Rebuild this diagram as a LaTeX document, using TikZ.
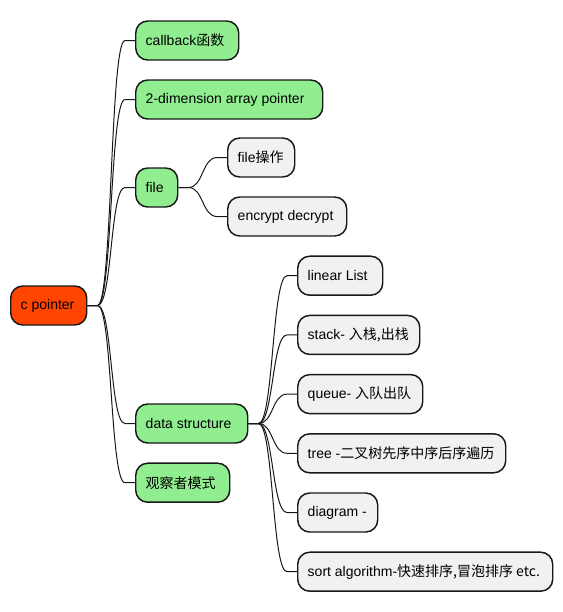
\documentclass[tikz,border=0pt]{standalone}
\usepackage{fontspec}
\setmainfont{Liberation Sans}
\newfontfamily\cjk{Noto Sans CJK SC}
\definecolor{rootfill}{HTML}{FF4500}
\definecolor{greenfill}{HTML}{90EE90}
\definecolor{grayfill}{HTML}{F1F1F1}
\definecolor{edgecol}{HTML}{181818}
\tikzset{
  mmnode/.style={draw=edgecol, line width=1.1pt, rounded corners=9pt, anchor=west,
    minimum height=29.25pt, inner xsep=7.5pt, inner ysep=0pt,
    font=\fontsize{10.5pt}{12pt}\selectfont, text=black},
  rootnode/.style={mmnode, fill=rootfill},
  lvlone/.style={mmnode, fill=greenfill},
  lvltwo/.style={mmnode, fill=grayfill},
  conn/.style={draw=edgecol, line width=0.75pt}
}
\newcommand\tx[2]{\makebox[#1][l]{#2}}
\newcommand\conn[2]{\draw[conn] (#1.east) -- ++(10,0) .. controls +(15,0) and +(-15,0) .. ([xshift=-7.5pt]#2.west) -- (#2.west);}
\begin{document}
\begin{tikzpicture}[x=0.75pt,y=-0.75pt]
\useasboundingbox (0,0) rectangle (562,612);
\node[rootnode] (root) at (10,305.5) {\tx{42pt}{c pointer}};
\node[lvlone] (cb) at (135,40.5) {\tx{62.25pt}{callback\cjk{函数}}};
\node[lvlone] (arr) at (135,99.5) {\tx{125.25pt}{2-dimension array pointer}};
\node[lvlone] (file) at (135,187.5) {\tx{16.5pt}{file}};
\node[lvltwo] (fop) at (227,157.5) {\tx{35.25pt}{file\cjk{操作}}};
\node[lvltwo] (enc) at (227,216.5) {\tx{74.25pt}{encrypt decrypt}};
\node[lvlone] (ds) at (135,423.5) {\tx{69pt}{data structure}};
\node[lvlone] (obs) at (135,482.7) {\tx{55.5pt}{\cjk{观察者模式}}};
\node[lvltwo] (lin) at (297,275.7) {\tx{48.75pt}{linear List}};
\node[lvltwo] (stk) at (297,334.9) {\tx{76.5pt}{stack- \cjk{入栈,出栈}}};
\node[lvltwo] (que) at (297,394.1) {\tx{78.75pt}{queue- \cjk{入队出队}}};
\node[lvltwo] (tree) at (297,453.3) {\tx{141pt}{tree -\cjk{二叉树先序中序后序遍历}}};
\node[lvltwo] (dia) at (297,512.5) {\tx{45pt}{diagram -}};
\node[lvltwo] (sort) at (297,571.7) {\tx{176.25pt}{sort algorithm-\cjk{快速排序,冒泡排序} etc.}};
\conn{root}{cb}
\conn{root}{arr}
\conn{root}{file}
\conn{root}{ds}
\conn{root}{obs}
\conn{file}{fop}
\conn{file}{enc}
\conn{ds}{lin}
\conn{ds}{stk}
\conn{ds}{que}
\conn{ds}{tree}
\conn{ds}{dia}
\conn{ds}{sort}
\end{tikzpicture}
\end{document}
